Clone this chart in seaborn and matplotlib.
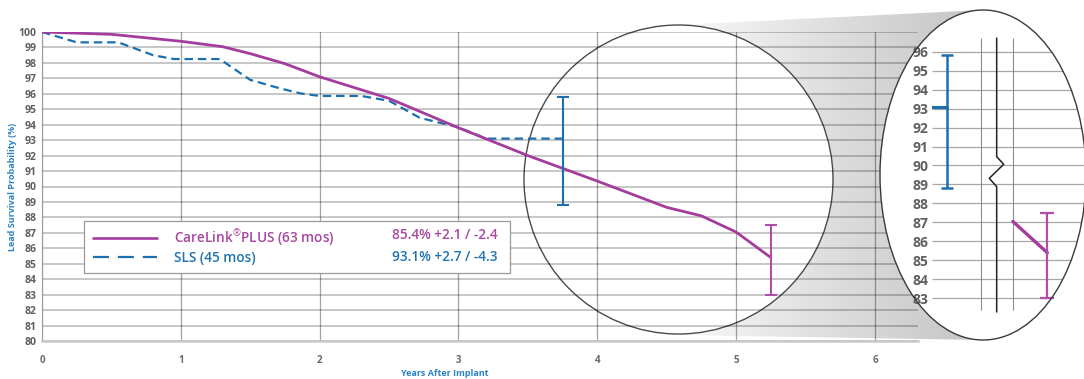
import numpy as np
import pandas as pd
import matplotlib
matplotlib.use("Agg")
import matplotlib.pyplot as plt
from matplotlib import patches
from matplotlib.lines import Line2D
import seaborn as sns

# ---------------- data ----------------
years_carelink = [0, 0.5, 1.0, 1.3, 1.5, 1.75, 2.0, 2.5, 3.0, 3.5, 4.0, 4.5, 4.75, 5.0, 5.25]
survival_carelink = [100, 99.85, 99.4, 99.05, 98.6, 97.95, 97.1, 95.7, 93.8, 92.0, 90.35, 88.65, 88.1, 87.05, 85.4]
years_sls = [0, 0.25, 0.55, 0.8, 0.95, 1.28, 1.5, 1.71, 1.86, 2.0, 2.3, 2.5, 2.72, 3.0, 3.2, 3.75]
survival_sls = [100, 99.33, 99.33, 98.5, 98.25, 98.25, 96.9, 96.36, 96.03, 95.86, 95.86, 95.55, 94.45, 93.83, 93.1, 93.1]

series_labels = ["CareLink$^{\\mathrm{®}}$PLUS (63 mos)", "SLS (45 mos)"]
end_years = [5.25, 3.75]
end_values = [85.4, 93.1]
err_plus = [2.1, 2.7]
err_minus = [2.4, 4.3]
summary_labels = ["85.4% +2.1 / -2.4", "93.1% +2.7 / -4.3"]
x_ticks = [0, 1, 2, 3, 4, 5, 6]
y_ticks = list(range(80, 101))
inset_y_ticks = list(range(83, 97))
inset_x_lines = [4, 5]

PURPLE = "#a43c9e"
PURPLE_BAR = "#b04fab"
PURPLE_TXT = "#a8479f"
BLUE = "#1b6fae"
BLUE_TXT = "#1f73b2"
LABEL_BLUE = "#2a82c4"

sns.set_style("white")
plt.rcParams['font.family'] = ['Open Sans', 'DejaVu Sans']
plt.rcParams['mathtext.fontset'] = 'custom'
plt.rcParams['mathtext.rm'] = 'Open Sans'
plt.rcParams['mathtext.it'] = 'Open Sans'
plt.rcParams['mathtext.bf'] = 'Open Sans'

W, H = 1084, 379
fig = plt.figure(figsize=(W / 100, H / 100), dpi=100)
fig.patch.set_facecolor("white")

# ---------- background (pixel coordinates) : beam + circle ----------
ax_bg = fig.add_axes([0, 0, 1, 1], zorder=0)
v = np.linspace(1.0, 0.76, 256)
grad = np.dstack([v, v, v]).reshape(1, 256, 3)
im = ax_bg.imshow(grad, extent=(640, 995, 345, 5), aspect="auto", interpolation="bilinear", zorder=1)
beam = patches.Polygon([(678.5, 25), (983, 10), (983, 340), (678.5, 335)], closed=True,
                       transform=ax_bg.transData)
im.set_clip_path(beam)
im.set_clip_box(None)
circle = patches.Circle((678.5, 179.5), 154.5, facecolor="white", edgecolor="#4a4a4a", lw=1.0, zorder=2)
ax_bg.add_patch(circle)
ax_bg.set_xlim(0, W)
ax_bg.set_ylim(H, 0)
ax_bg.axis("off")

# ---------------- main axes ----------------
ax = fig.add_axes([42 / W, 38 / H, 876 / W, 309 / H], zorder=1)
ax.set_facecolor("none")
df_cl = pd.DataFrame({"year": years_carelink, "surv": survival_carelink})
df_sls = pd.DataFrame({"year": years_sls, "surv": survival_sls})
sns.lineplot(data=df_cl, x="year", y="surv", ax=ax, color=PURPLE, linewidth=2.0, zorder=4)
sns.lineplot(data=df_sls, x="year", y="surv", ax=ax, color=BLUE, linewidth=1.6,
             linestyle=(0, (3.8, 2.2)), zorder=3)
ax.errorbar([end_years[1]], [end_values[1]], yerr=[[err_minus[1]], [err_plus[1]]], fmt="none",
            ecolor=BLUE, elinewidth=1.5, capsize=4.3, capthick=1.5, zorder=5)
ax.errorbar([end_years[0]], [end_values[0]], yerr=[[err_minus[0]], [err_plus[0]]], fmt="none",
            ecolor=PURPLE_BAR, elinewidth=1.5, capsize=4.3, capthick=1.5, zorder=5)

ax.set_xlim(0, 6.31)
ax.set_ylim(80, 100)
ax.set_xticks(x_ticks)
ax.set_yticks(y_ticks)
ax.set_axisbelow(True)
ax.grid(axis="y", color="black", alpha=0.24, linewidth=1.3)
ax.grid(axis="x", color="black", alpha=0.36, linewidth=0.9)
for s in ["top", "right"]:
    ax.spines[s].set_visible(False)
ax.spines["left"].set_color("#9a9a9a")
ax.spines["left"].set_linewidth(0.8)
ax.spines["bottom"].set_color("#c9c9c9")
ax.spines["bottom"].set_linewidth(1.8)
ax.tick_params(axis="x", length=5, width=0.8, color="#a0a0a0", pad=5, labelsize=7, labelcolor="#6a6a6a")
ax.tick_params(axis="y", length=0, pad=4, labelsize=7.5, labelcolor="#5f5f5f")
plt.setp(ax.get_yticklabels(), fontweight="bold")
plt.setp(ax.get_xticklabels(), fontweight="bold")

ax.set_xlabel("Years After Implant", color=LABEL_BLUE, fontsize=6.5, fontweight="bold")
ax.xaxis.set_label_coords((445 - 42) / 876, -(369 - 341) / 309)
ax.set_ylabel("Lead Survival Probability (%)", color=LABEL_BLUE, fontsize=6.5, fontweight="bold")
ax.yaxis.set_label_coords((17.5 - 42) / 876, 0.5)

# legend
fs = 9.8
fpx = fs * 100 / 72
handles = [Line2D([], [], color=PURPLE, lw=1.9),
           Line2D([], [], color=BLUE, lw=1.6, linestyle=(0, (7.2, 4.0)))]
frame = patches.Rectangle((84, 221), 426, 52, transform=ax_bg.transData, facecolor="white",
                          edgecolor="#9a9a9a", lw=0.9, zorder=6)
ax.add_patch(frame)
leg = ax.legend(handles, series_labels, loc="center left", bbox_to_anchor=(93, 246),
                bbox_transform=ax_bg.transData, frameon=False, borderpad=0, borderaxespad=0,
                handlelength=64 / fpx, handletextpad=17 / fpx, labelspacing=0.25,
                prop={"size": fs, "weight": "semibold"})
leg.set_zorder(7)
for t, c in zip(leg.get_texts(), [PURPLE_TXT, BLUE_TXT]):
    t.set_color(c)
for lbl, yy, c in zip(summary_labels, [235, 257], [PURPLE_TXT, BLUE_TXT]):
    ax.text(498, yy, lbl, transform=ax_bg.transData, ha="right", va="center",
            color=c, fontsize=fs, fontweight="semibold", zorder=8)

# ---------------- inset (zoomed ellipse) ----------------
def fwd(x):
    x = np.asarray(x, float)
    return np.where(x <= 4, x, np.where(x >= 5, x - 0.77, 4 + (x - 4) * 0.23))


def inv(u):
    u = np.asarray(u, float)
    return np.where(u <= 4, u, np.where(u >= 4.23, u + 0.77, 4 + (u - 4) / 0.23))


ax_in = fig.add_axes([932 / W, 39 / H, 154 / W, 330 / H], zorder=2)
ax_in.set_facecolor("none")
ax_in.set_xscale("function", functions=(fwd, inv))

ell_fill = patches.Ellipse((983, 175), 206, 330, transform=ax_bg.transData, facecolor="white",
                           edgecolor="none", zorder=0, clip_on=False)
ax_in.add_patch(ell_fill)
ell_edge = patches.Ellipse((983, 175), 206, 330, transform=ax_bg.transData, facecolor="none",
                           edgecolor="#3a3a3a", lw=1.0, zorder=10, clip_on=False)
ax_in.add_patch(ell_edge)
clip_ell = patches.Ellipse((983, 175), 206, 330, transform=ax_bg.transData)

x_lo, x_hi = 3.644, 5.53
hl = ax_in.hlines(inset_y_ticks, x_lo, x_hi, colors="#a6a6a6", linewidth=0.9, zorder=1)
hl.set_clip_path(clip_ell)
ax_in.vlines(inset_x_lines, 82.38, 96.72, colors="#8c8c8c", linewidth=0.8, zorder=1)

bx = 0.42
ax_in.plot([bx, bx, bx + 0.0455, bx - 0.048, bx, bx],
           [0.915, 0.5555, 0.5324, 0.49, 0.4645, 0.0848],
           transform=ax_in.transAxes, color="#222222", lw=1.1, zorder=3)

sub_sls = df_sls[df_sls["year"] >= 3.2]
sub_cl = df_cl[df_cl["year"] >= 5.0]
sns.lineplot(data=sub_sls, x="year", y="surv", ax=ax_in, color=BLUE, linewidth=2.2, zorder=4)
sns.lineplot(data=sub_cl, x="year", y="surv", ax=ax_in, color=PURPLE, linewidth=2.4, zorder=4)
ax_in.errorbar([end_years[1]], [end_values[1]], yerr=[[err_minus[1]], [err_plus[1]]], fmt="none",
               ecolor=BLUE, elinewidth=1.8, capsize=4.3, capthick=1.8, zorder=5)
ax_in.errorbar([end_years[0]], [end_values[0]], yerr=[[err_minus[0]], [err_plus[0]]], fmt="none",
               ecolor=PURPLE_BAR, elinewidth=1.6, capsize=4.7, capthick=1.6, zorder=5)

ax_in.set_xlim(x_lo, x_hi)
ax_in.set_ylim(80.80, 98.198)
ax_in.set_xticks([])
ax_in.set_yticks(inset_y_ticks)
ax_in.set_xlabel("")
ax_in.set_ylabel("")
for s in ax_in.spines.values():
    s.set_visible(False)
ax_in.tick_params(axis="y", length=0, pad=2.5, labelsize=10, labelcolor="#606060")
plt.setp(ax_in.get_yticklabels(), fontweight="bold")

fig.savefig("out.png", dpi=100)
